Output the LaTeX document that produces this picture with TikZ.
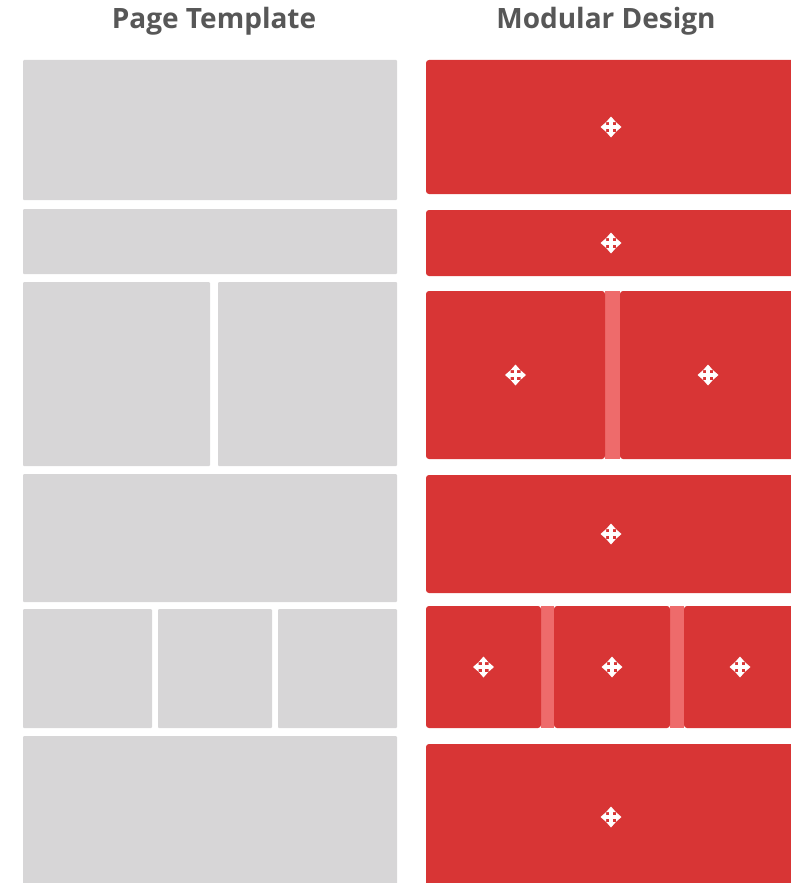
\documentclass[tikz,border=0pt]{standalone}
\usepackage{fontspec}
\setmainfont{Open Sans}
\usetikzlibrary{positioning}
\definecolor{PanelGray}{HTML}{D7D6D7}
\definecolor{ModRed}{HTML}{D83535}
\definecolor{GapRed}{HTML}{EE6B6B}
\definecolor{TitleGray}{HTML}{575757}

\begin{document}
\begin{tikzpicture}[x=1pt,y=-1pt]
    \tikzset{
      cell/.style={anchor=north west,inner sep=0pt,outer sep=0pt},
      slot/.style={cell,fill=PanelGray,rounded corners=1pt},
      module/.style={cell,fill=ModRed,rounded corners=3pt},
      seam/.style={cell,fill=GapRed},
      title/.style={font=\bfseries\fontsize{28}{32}\selectfont,text=TitleGray,anchor=base},
      mover/.pic={
        \fill[white] (-1.8,-6) rectangle (1.8,6);
        \fill[white] (-6,-1.8) rectangle (6,1.8);
        \foreach \r in {0,90,180,270}
          \fill[white,rotate=\r] (10.5,0) -- (5,-4.8) -- (5,4.8) -- cycle;
      }
    }
    \useasboundingbox (0,0) rectangle (791,883);
    \clip (0,0) rectangle (791,883);
    \node[title] (left) at (214,29) {Page Template};
    \node[title] (right) at (606,29) {Modular Design};
    % page template
    \foreach \n/\xa/\ya/\xb/\yb in {t1/23/60/397/200,t2/23/209/397/274,
        t3a/23/282/210/466,t3b/218/282/397/466,t4/23/474/397/602,
        t5a/23/609/152/728,t5b/158/609/272/728,t5c/278/609/397/728,
        t6/23/736/397/890}
      \node[slot,minimum width={(\xb-\xa)*1pt},minimum height={(\yb-\ya)*1pt}]
        (\n) at (\xa,\ya) {};
    % modular design
    \foreach \n/\xa/\ya/\xb/\yb in {s3/605/291/620/459,s5a/541/606/554/728,
        s5b/670/606/684/728}
      \node[seam,minimum width={(\xb-\xa)*1pt},minimum height={(\yb-\ya)*1pt}]
        (\n) at (\xa,\ya) {};
    \foreach \n/\xa/\ya/\xb/\yb in {m1/426/60/796/194,m2/426/210/796/276,
        m3a/426/291/605/459,m3b/620/291/796/459,m4/426/475/796/593,
        m5a/426/606/541/728,m5b/554/606/670/728,m5c/684/606/796/728,
        m6/426/744/796/890}
      \node[module,minimum width={(\xb-\xa)*1pt},minimum height={(\yb-\ya)*1pt}]
        (\n) at (\xa,\ya) {};
    \foreach \n in {m1,m2,m3a,m3b,m4,m5a,m5b,m5c}
      \pic at (\n.center) {mover};
    \pic at (611,817) {mover};
  \end{tikzpicture}
\end{document}
